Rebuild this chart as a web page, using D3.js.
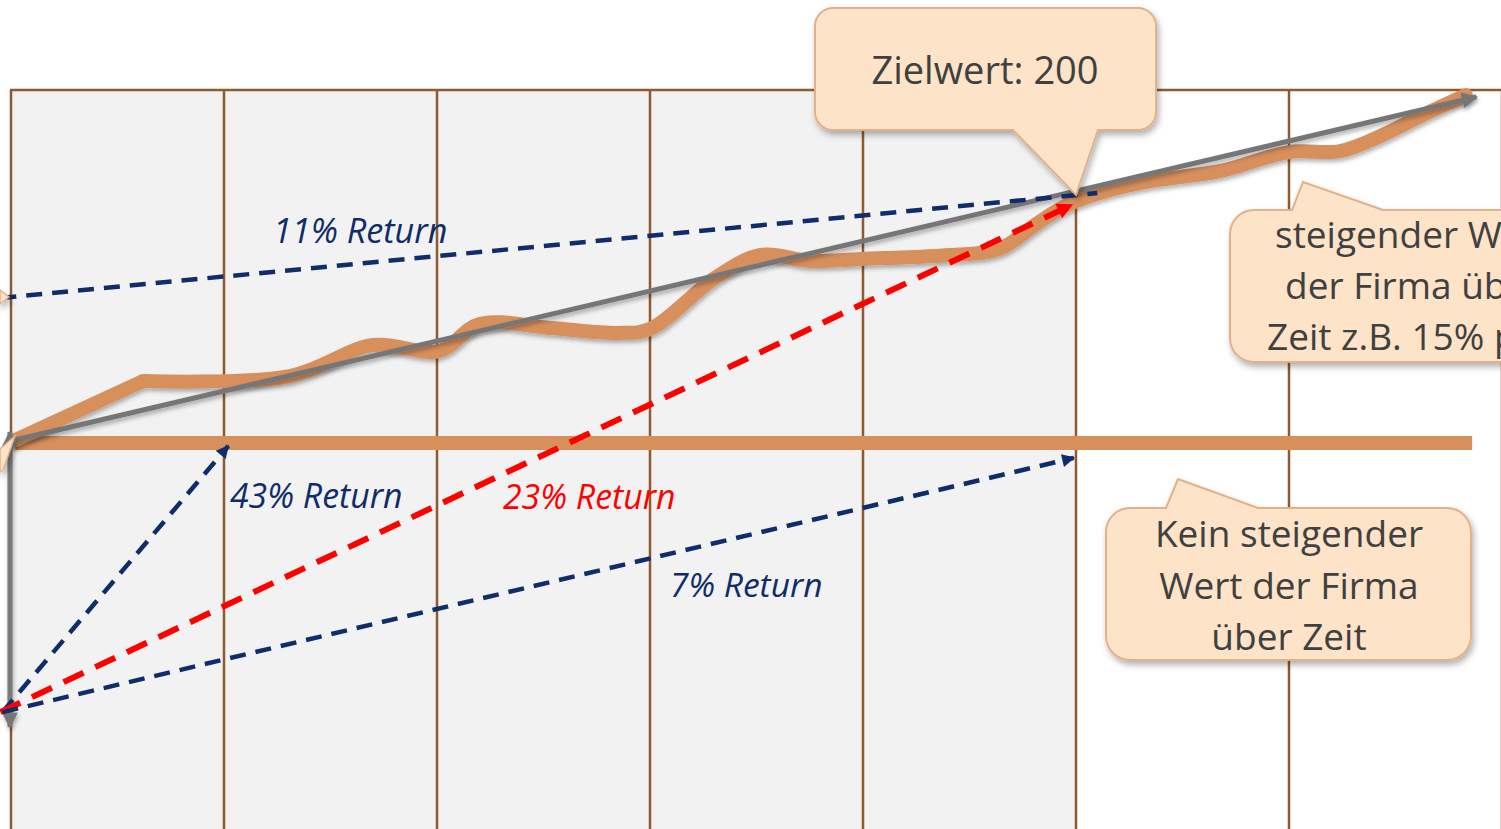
<!DOCTYPE html>
<html><head><meta charset="utf-8">
<script src="https://cdn.jsdelivr.net/npm/d3@7"></script>
<style>
html,body{margin:0;padding:0;background:#fff;overflow:hidden}
svg{display:block}
</style></head><body>
<svg id="chart" width="1501" height="829"></svg>
<script>
// ---------- data ----------
const gridYears = [0, 1, 2, 3, 4, 5, 6, 7];
const shadedYears = [0, 5];
const baseYears = [0.02, 6.86];
const baseValues = [100, 100];
const waveYears  = [0.02, 0.62, 1.31, 1.70, 2.01, 2.20, 2.53, 2.85, 3.00, 3.31, 3.52, 3.75, 3.99, 4.41, 4.64, 4.82, 4.96, 5.16, 5.35, 5.68, 6.00, 6.24, 6.44, 6.62, 6.83];
const waveValues = [101.2, 125.0, 127.0, 139.5, 137.1, 148.0, 146.4, 144.4, 146.0, 166.9, 175.8, 173.4, 174.2, 175.8, 178.2, 188.7, 196.0, 202.0, 205.6, 209.7, 217.3, 217.7, 224.2, 231.9, 240.3];
const trendYears = [0.02, 6.88];
const trendValues = [101.2, 239.5];
const entryArrowYears = [-0.005, -0.005];
const entryArrowValues = [104.4, -14.5];
const returnLabels = ["43% Return", "23% Return", "7% Return", "11% Return"];
const returnStartYears  = [-0.04, -0.05, -0.04, -0.05];
const returnStartValues = [-8.5, -8.5, -8.5, 158.5];
const returnEndYears  = [1.02, 4.98, 4.99, 5.10];
const returnEndValues = [98.8, 196.0, 94.0, 200.8];
const returnArrow = [true, true, true, false];
const returnColors = ["#0f2c6b", "#ff0000", "#0f2c6b", "#0f2c6b"];
const targetLabel = "Zielwert: 200";
const risingLines = ["steigender Wert", "der Firma über", "Zeit z.B. 15% p.a."];
const flatLines = ["Kein steigender", "Wert der Firma", "über Zeit"];

// ---------- scales ----------
const svg = d3.select("#chart");
const x = d3.scaleLinear().domain([0, 7]).range([11, 1502]);
const y = d3.scaleLinear().domain([0, 200]).range([691, 195]);

const defs = svg.append("defs");
const f1 = defs.append("filter").attr("id", "cshadow").attr("filterUnits", "userSpaceOnUse")
  .attr("x", -20).attr("y", -20).attr("width", 1560).attr("height", 880);
f1.append("feDropShadow").attr("dx", 2).attr("dy", 4).attr("stdDeviation", 3).attr("flood-color", "#000").attr("flood-opacity", 0.3);
const f2 = defs.append("filter").attr("id", "lshadow").attr("filterUnits", "userSpaceOnUse")
  .attr("x", -20).attr("y", -20).attr("width", 1560).attr("height", 880);
f2.append("feDropShadow").attr("dx", 1).attr("dy", 3).attr("stdDeviation", 2).attr("flood-color", "#000").attr("flood-opacity", 0.3);

function marker(id, color, w, h) {
  defs.append("marker").attr("id", id).attr("viewBox", "0 0 10 10")
    .attr("refX", 9).attr("refY", 5).attr("markerUnits", "userSpaceOnUse")
    .attr("markerWidth", w).attr("markerHeight", h).attr("orient", "auto-start-reverse")
    .append("path").attr("d", "M0,0 L10,5 L0,10 z").attr("fill", color);
}
marker("mGray", "#767676", 20, 16);
marker("mNavy", "#0f2c6b", 16, 13);
marker("mRed", "#ff0000", 18, 16);

// ---------- background grid ----------
svg.append("rect").attr("x", x(shadedYears[0])).attr("y", 90)
  .attr("width", x(shadedYears[1]) - x(shadedYears[0])).attr("height", 829 - 90).attr("fill", "#f2f2f2");
const gridColor = "#8f5a2d";
svg.selectAll("line.grid").data(gridYears).join("line").attr("class", "grid")
  .attr("x1", d => x(d)).attr("x2", d => x(d)).attr("y1", 90).attr("y2", 829)
  .attr("stroke", gridColor).attr("stroke-width", 2.5);
svg.append("line").attr("x1", x(0) - 1).attr("x2", 1501).attr("y1", 90).attr("y2", 90)
  .attr("stroke", gridColor).attr("stroke-width", 2.5);

// ---------- orange lines ----------
const orange = "#d78f5b";
const line = d3.line().x(d => x(d[0])).y(d => y(d[1]));
svg.append("path").datum(d3.zip(baseYears, baseValues)).attr("d", line)
  .attr("fill", "none").attr("stroke", orange).attr("stroke-width", 14);
const wavePts = d3.zip(waveYears, waveValues);
const waveG = svg.append("g").attr("filter", "url(#lshadow)");
// first leg is straight, the rest is a smooth curve
waveG.append("path").datum(wavePts.slice(0, 2)).attr("d", line)
  .attr("fill", "none").attr("stroke", orange).attr("stroke-width", 14).attr("stroke-linecap", "round");
waveG.append("path").datum(wavePts.slice(1))
  .attr("d", d3.line().x(d => x(d[0])).y(d => y(d[1])).curve(d3.curveCatmullRom.alpha(0.5)))
  .attr("fill", "none").attr("stroke", orange).attr("stroke-width", 14).attr("stroke-linecap", "round");

// ---------- gray trend & entry arrow ----------
svg.append("path").datum(d3.zip(trendYears, trendValues)).attr("d", line)
  .attr("fill", "none").attr("stroke", "#767676").attr("stroke-width", 5)
  .attr("marker-end", "url(#mGray)").attr("filter", "url(#lshadow)");
svg.append("path").datum(d3.zip(entryArrowYears, entryArrowValues)).attr("d", line)
  .attr("fill", "none").attr("stroke", "#7a7a7a").attr("stroke-width", 5)
  .attr("marker-start", "url(#mGray)").attr("marker-end", "url(#mGray)").attr("filter", "url(#lshadow)");

// ---------- return lines ----------
returnLabels.forEach((lab, i) => {
  const red = returnColors[i] === "#ff0000";
  const p = svg.append("path")
    .datum([[returnStartYears[i], returnStartValues[i]], [returnEndYears[i], returnEndValues[i]]])
    .attr("d", line).attr("fill", "none").attr("stroke", returnColors[i])
    .attr("stroke-width", red ? 6 : 4.5).attr("stroke-dasharray", red ? "22,13" : "16,10");
  if (returnArrow[i]) p.attr("marker-end", red ? "url(#mRed)" : "url(#mNavy)");
});

// ---------- callouts ----------
function calloutPath(x0, y0, w, h, r, t) {
  let p = `M${x0 + r},${y0}`;
  if (t.side === "top") p += `H${t.b1}L${t.tx},${t.ty}L${t.b2},${y0}`;
  p += `H${x0 + w - r}A${r},${r} 0 0 1 ${x0 + w},${y0 + r}V${y0 + h - r}A${r},${r} 0 0 1 ${x0 + w - r},${y0 + h}`;
  if (t.side === "bottom") p += `H${t.b2}L${t.tx},${t.ty}L${t.b1},${y0 + h}`;
  p += `H${x0 + r}A${r},${r} 0 0 1 ${x0},${y0 + h - r}V${y0 + r}A${r},${r} 0 0 1 ${x0 + r},${y0}Z`;
  return p;
}
const cFill = "#fde3c8", cStroke = "#e4b08a";
const cg = svg.append("g").attr("filter", "url(#cshadow)");
cg.append("path").attr("d", calloutPath(815, 8, 341, 122, 18, {side: "bottom", b1: 1013, b2: 1098, tx: x(5), ty: y(200)}))
  .attr("fill", cFill).attr("stroke", cStroke).attr("stroke-width", 2);
cg.append("path").attr("d", calloutPath(1230, 210, 380, 152, 24, {side: "top", b1: 1292, b2: 1383, tx: 1303, ty: 182}))
  .attr("fill", cFill).attr("stroke", cStroke).attr("stroke-width", 2);
cg.append("path").attr("d", calloutPath(1106, 508, 365, 152, 24, {side: "top", b1: 1166, b2: 1258, tx: 1178, ty: 479}))
  .attr("fill", cFill).attr("stroke", cStroke).attr("stroke-width", 2);
// partial callout tails at the left edge
cg.append("path").attr("d", "M0,290 L9,297 L0,304 Z").attr("fill", cFill).attr("stroke", cStroke).attr("stroke-width", 1.5);
cg.append("path").attr("d", "M0,449 L15,436 L3,470 L0,472 Z").attr("fill", cFill).attr("stroke", cStroke).attr("stroke-width", 1.5);

const font = "'Open Sans', 'Noto Sans', sans-serif";
svg.append("text").attr("x", 985).attr("y", 84).attr("text-anchor", "middle")
  .attr("font-family", font).attr("font-size", 38).attr("fill", "#404040").text(targetLabel);
const risingX = [1275, 1285, 1267];
risingLines.forEach((t, i) => svg.append("text").attr("x", risingX[i]).attr("y", 248 + i * 51)
  .attr("font-family", font).attr("font-size", 37).attr("fill", "#404040").text(t));
flatLines.forEach((t, i) => svg.append("text").attr("x", 1289).attr("y", 547 + i * 51.5).attr("text-anchor", "middle")
  .attr("font-family", font).attr("font-size", 37).attr("fill", "#404040").text(t));

// ---------- return labels ----------
const labelPos = [[230, 508], [503, 509], [670, 597], [273, 243]];
const labelSize = [33.8, 33.8, 33.5, 34.2];
returnLabels.forEach((lab, i) => svg.append("text").attr("x", labelPos[i][0]).attr("y", labelPos[i][1])
  .attr("font-family", font).attr("font-style", "italic").attr("font-size", labelSize[i])
  .attr("fill", returnColors[i]).text(lab));
</script>
</body></html>
